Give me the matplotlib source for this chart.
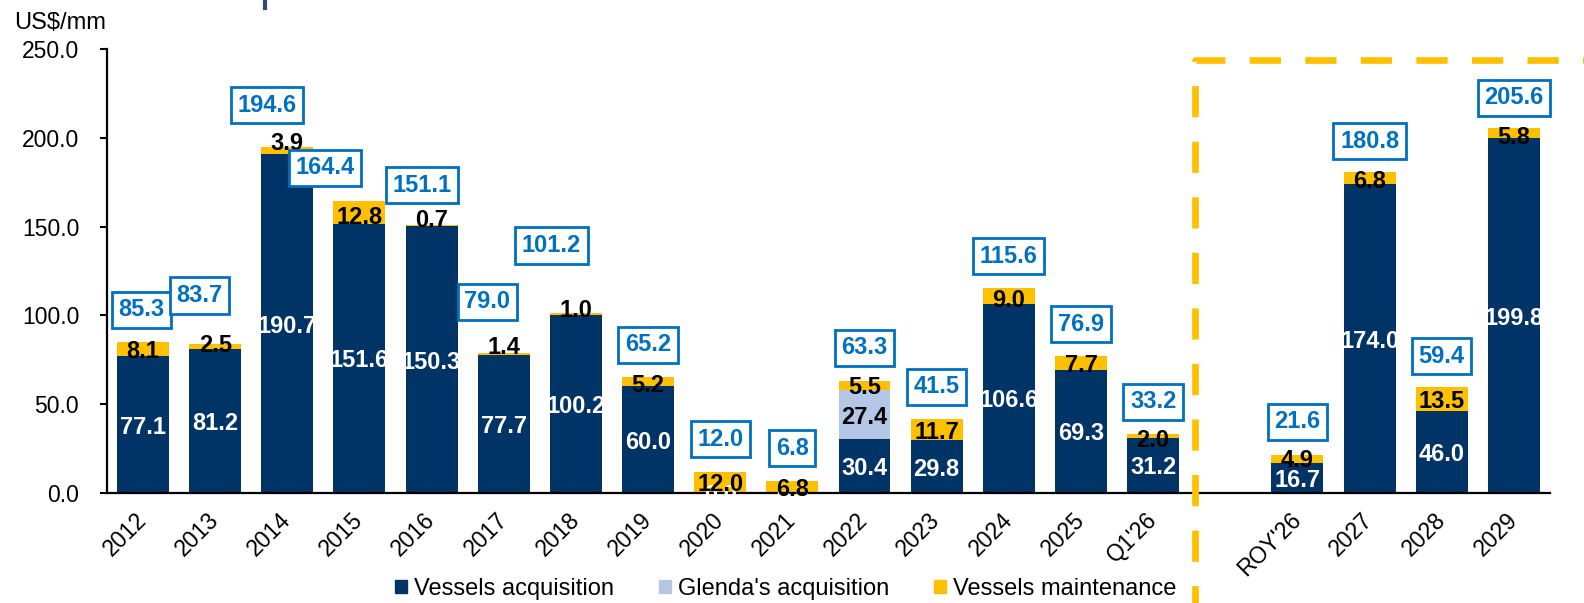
import numpy as np
import matplotlib
matplotlib.use("Agg")
import matplotlib.pyplot as plt
from matplotlib.lines import Line2D
from matplotlib.patches import Patch

plt.rcParams['font.family'] = ['Liberation Sans', 'DejaVu Sans']
plt.rcParams['lines.scale_dashes'] = False

# capex by year, US$ mm
categories = ["2012", "2013", "2014", "2015", "2016", "2017", "2018", "2019", "2020",
              "2021", "2022", "2023", "2024", "2025", "Q1'26",
              "ROY'26", "2027", "2028", "2029"]
vessels_acq = [77.1, 81.2, 190.7, 151.6, 150.3, 77.7, 100.2, 60.0, 0.0,
               0.0, 30.4, 29.8, 106.6, 69.3, 31.2,
               16.7, 174.0, 46.0, 199.8]
glenda_acq = [0.0, 0.0, 0.0, 0.0, 0.0, 0.0, 0.0, 0.0, 0.0,
              0.0, 27.4, 0.0, 0.0, 0.0, 0.0,
              0.0, 0.0, 0.0, 0.0]
maintenance = [8.1, 2.5, 3.9, 12.8, 0.7, 1.4, 1.0, 5.2, 12.0,
               6.8, 5.5, 11.7, 9.0, 7.7, 2.0,
               4.9, 6.8, 13.5, 5.8]
totals = [85.3, 83.7, 194.6, 164.4, 151.1, 79.0, 101.2, 65.2, 12.0,
          6.8, 63.3, 41.5, 115.6, 76.9, 33.2,
          21.6, 180.8, 59.4, 205.6]

# label placement tweaks (y in data units, x in bar slots)
total_lift = [17.9, 27.5, 23.7, 18.7, 22.2, 28.7, 38.2, 18.2, 18.3,
              18.4, 18.5, 18.4, 17.7, 18.1, 18.2,
              18.5, 17.2, 17.6, 16.9]
total_shift = [-0.02, -0.22, -0.28, -0.48, -0.13, -0.23, -0.34, 0, 0,
               0, 0, 0, 0, 0, 0,
               0, 0, 0, 0]
maint_nudge = [0, 2.2, 5.8, -1.5, 4.2, 4.9, 3.5, -0.7, 0,
               0, 0, 0, -1.3, 0, -1.2,
               0.5, -0.6, 0, -1.1]

NAVY = "#003466"
LIGHT = "#B4C7E7"
GOLD = "#FFC000"
BOXBLUE = "#0070C0"

n_hist = categories.index("Q1'26") + 1
x = np.array(list(range(n_hist)) + list(range(n_hist + 1, len(categories) + 1)), dtype=float)

va = np.array(vessels_acq)
ga = np.array(glenda_acq)
mt = np.array(maintenance)

fig = plt.figure(figsize=(15.84, 6.03), dpi=100)
ax = fig.add_axes([0.0675, 0.1824, 0.911, 0.7363])

w = 0.72
ax.bar(x, va, w, color=NAVY, zorder=2)
ax.bar(x, ga, w, bottom=va, color=LIGHT, zorder=2)
ax.bar(x, mt, w, bottom=va + ga, color=GOLD, zorder=2)

lbl = dict(fontsize=17, fontweight='bold', ha='center', va='center_baseline')
for i in range(len(categories)):
    ax.text(x[i], va[i] / 2, f"{va[i]:.1f}", color='white', zorder=4, **lbl)
    if ga[i] > 0:
        ax.text(x[i], va[i] + ga[i] / 2, f"{ga[i]:.1f}", color='black', zorder=4, **lbl)
    ax.text(x[i], va[i] + ga[i] + mt[i] / 2 + maint_nudge[i], f"{mt[i]:.1f}",
            color='black', zorder=5, **lbl)
    ax.text(x[i] + total_shift[i], totals[i] + total_lift[i], f"{totals[i]:.1f}",
            color=BOXBLUE, fontsize=17, fontweight='bold', ha='center', va='center',
            zorder=6,
            bbox=dict(boxstyle='square,pad=0.28', facecolor='white',
                      edgecolor=BOXBLUE, linewidth=2))

ax.set_xlim(-0.5, len(categories) + 0.5)
ax.set_ylim(0, 250)
ax.set_yticks(np.arange(0, 251, 50))
ax.set_yticklabels([f"{v:.1f}" for v in np.arange(0, 251, 50)], fontsize=16.5)
ax.set_xticks(x)
ax.set_xticklabels(categories, fontsize=16.5, rotation=45, ha='right', va='center',
                   rotation_mode='anchor')
ax.tick_params(axis='x', length=0, pad=17)
ax.tick_params(axis='y', length=5, width=1.5, direction='out', pad=15)
for s in ['top', 'right']:
    ax.spines[s].set_visible(False)
for s in ['left', 'bottom']:
    ax.spines[s].set_linewidth(1.6)
ax.spines['bottom'].set_zorder(3)

fig.text(14 / 1584, 1 - 23 / 603, "US$/mm", fontsize=17, ha='left', va='center')

# dashed frame around the forecast years
fx = 1195 / 1584
fy = 1 - 60 / 603
frame = Line2D([fx, fx, 1.0], [0.0, fy, fy], transform=fig.transFigure,
               color=GOLD, linewidth=4.8, dash_joinstyle='round',
               dash_capstyle='butt', linestyle=(10, (22.5, 17.5)))
fig.add_artist(frame)

# stray title stroke at the top edge
fig.add_artist(Line2D([265 / 1584, 265 / 1584], [1.0, 1 - 8 / 603],
                      transform=fig.transFigure, color="#2F4A7A", linewidth=3))

handles = [Patch(color=NAVY, label="Vessels acquisition"),
           Patch(color=LIGHT, label="Glenda's acquisition"),
           Patch(color=GOLD, label="Vessels maintenance")]
fig.legend(handles=handles, loc='center', bbox_to_anchor=(786 / 1584, 1 - 589 / 603),
           ncol=3, frameon=False, fontsize=17, handlelength=0.5, handleheight=0.5,
           handletextpad=0.3, columnspacing=1.9, borderpad=0)

fig.savefig("out.png", dpi=100)
